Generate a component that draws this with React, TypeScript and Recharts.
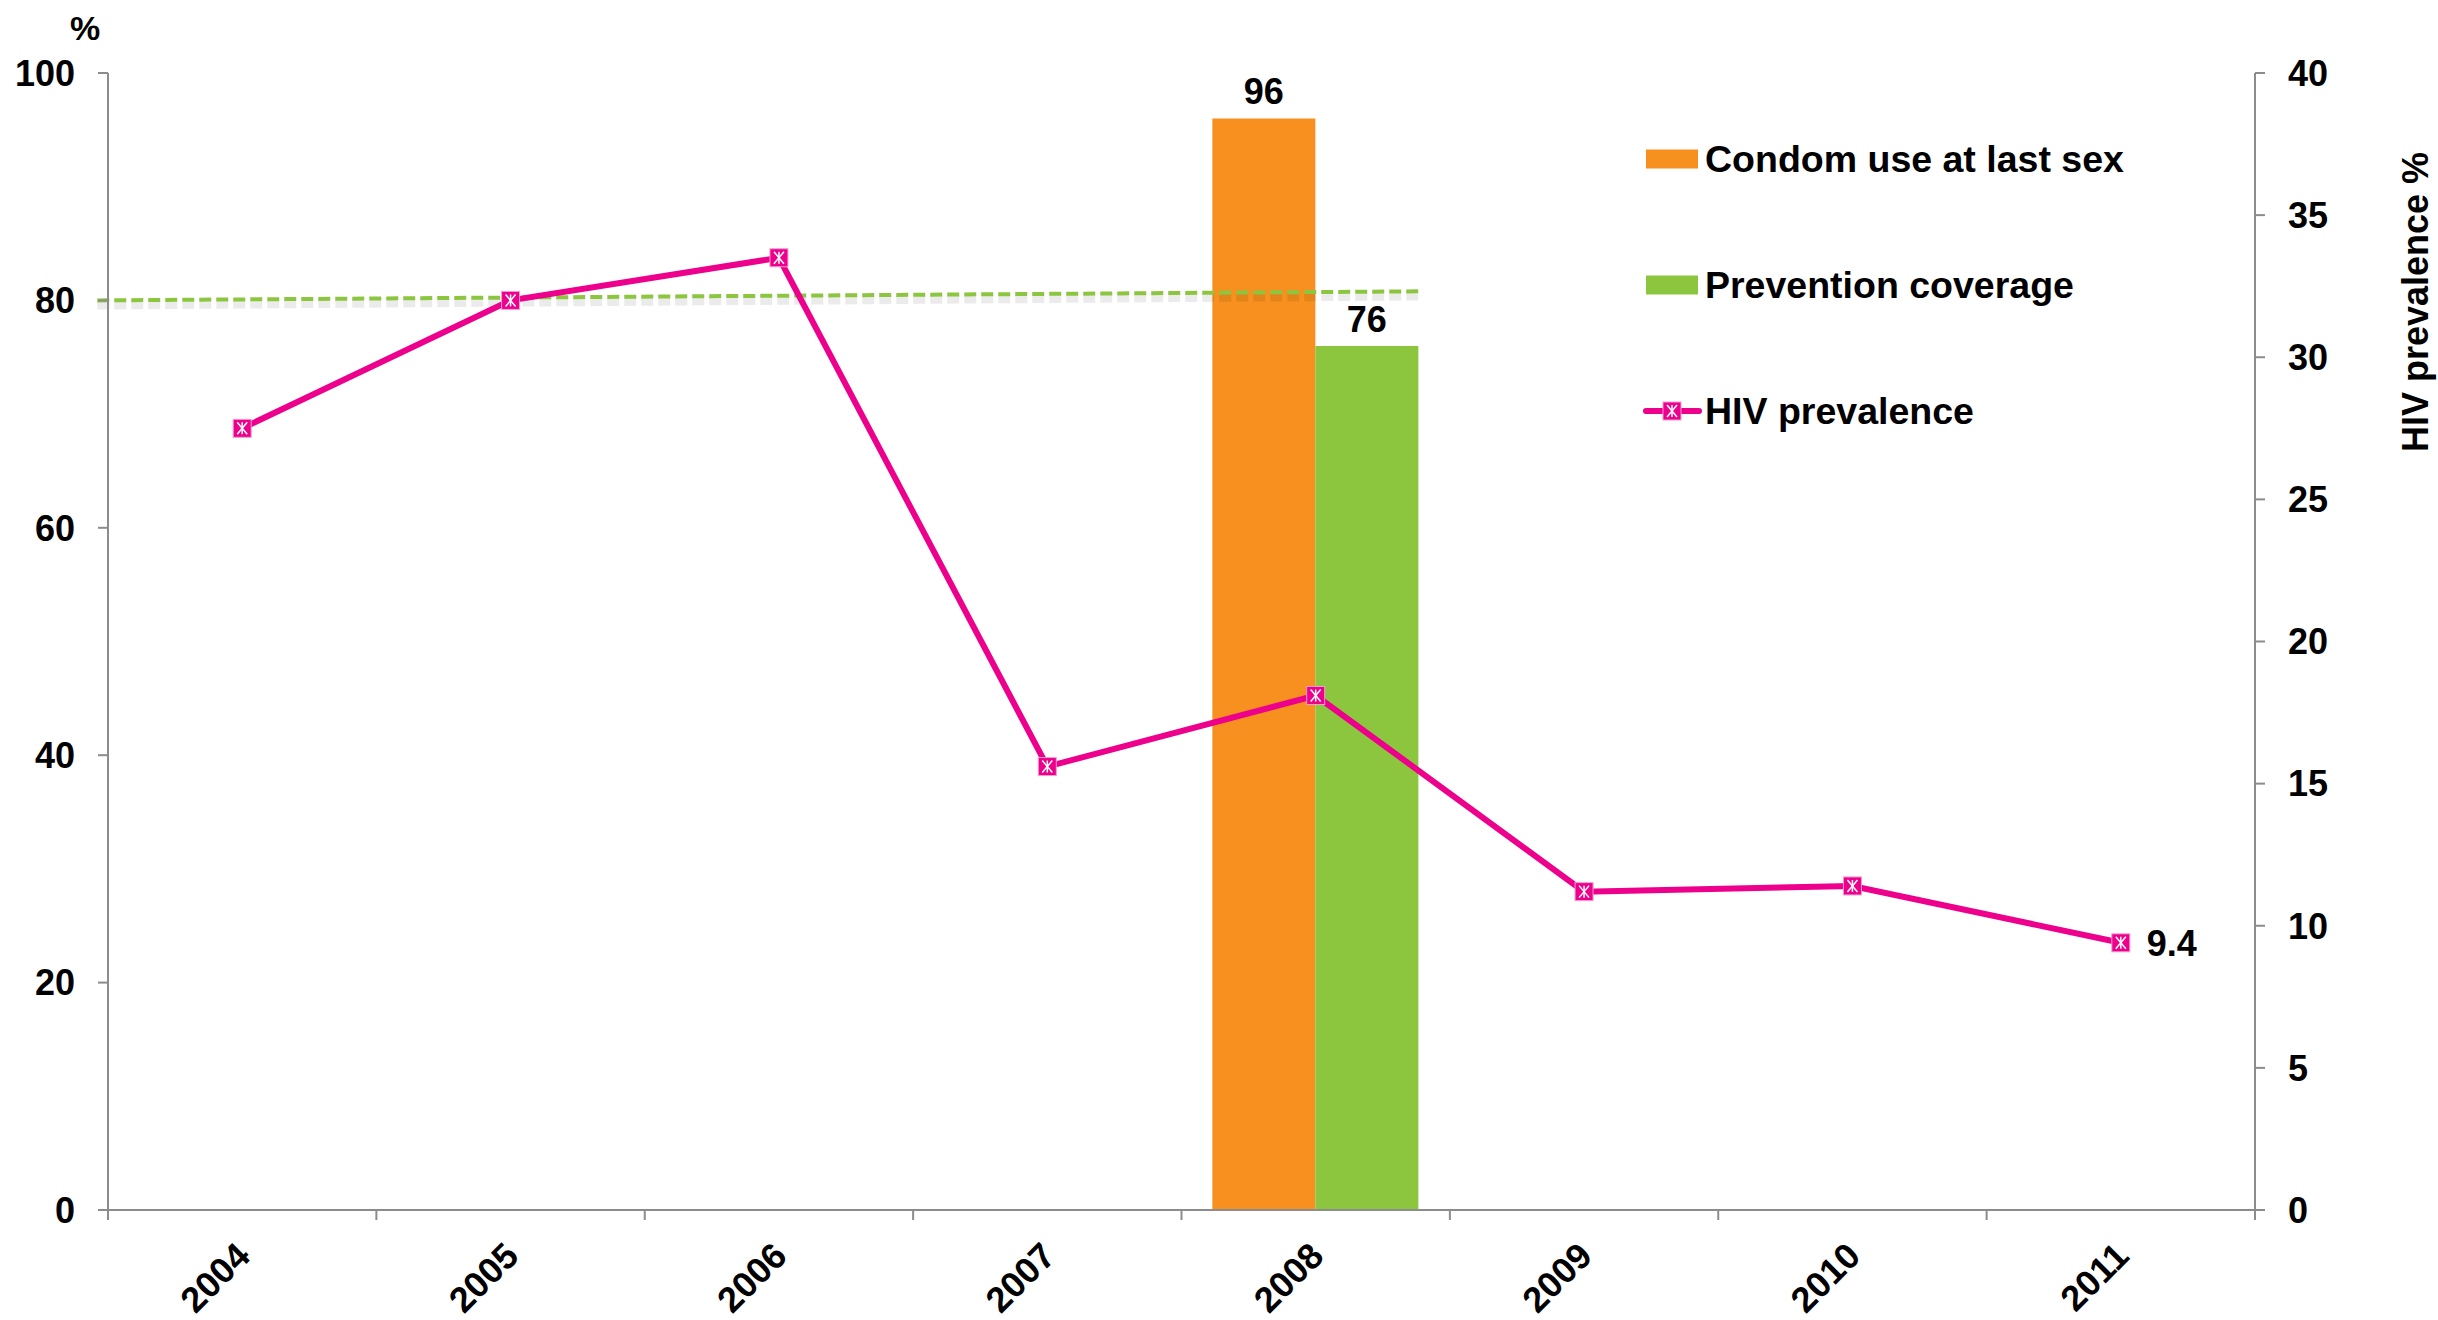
import {
  ComposedChart,
  Bar,
  Line,
  XAxis,
  YAxis,
  Legend,
  LabelList,
  ReferenceLine,
} from "recharts";

const years = ["2004", "2005", "2006", "2007", "2008", "2009", "2010", "2011"];
const condomUse = [null, null, null, null, 96, null, null, null];
const preventionCoverage = [null, null, null, null, 76, null, null, null];
const hivPrevalence = [27.5, 32.0, 33.5, 15.6, 18.1, 11.2, 11.4, 9.4];
const hivLabels = [null, null, null, null, null, null, null, 9.4];
const leftTicks = [0, 20, 40, 60, 80, 100];
const rightTicks = [0, 5, 10, 15, 20, 25, 30, 35, 40];
// dashed coverage trend line, in (category position, %) units
const coverageTrend = [
  { x: -0.04, y: 80 },
  { x: 4.9, y: 80.8 },
];

const ORANGE = "#F7901E";
const GREEN = "#8CC63F";
const PINK = "#EC008C";
const AXIS = "#8c8c8c";
const FONT = "'Liberation Sans', Arial, sans-serif";

const data = years.map((y, i) => ({
  year: y,
  pos: i,
  condom: condomUse[i],
  coverage: preventionCoverage[i],
  hiv: hivPrevalence[i],
  hivLabel: hivLabels[i],
}));

const Marker = ({ cx, cy, size = 18 }: any) => {
  if (cx == null || cy == null) return null;
  const h = size / 2;
  const a = h - 3;
  return (
    <g>
      <rect x={cx - h} y={cy - h} width={size} height={size} fill={PINK} stroke="#f59ccf" strokeWidth={1} />
      <line x1={cx} y1={cy - a} x2={cx} y2={cy + a} stroke="#fff" strokeWidth={1.5} />
      <line x1={cx - a + 1} y1={cy - a} x2={cx + a - 1} y2={cy + a} stroke="#fff" strokeWidth={1.5} />
      <line x1={cx + a - 1} y1={cy - a} x2={cx - a + 1} y2={cy + a} stroke="#fff" strokeWidth={1.5} />
    </g>
  );
};

const YearTick = (props: any) => {
  const { x, y, payload, index, width } = props;
  const half = payload.offset ?? width / years.length / 2;
  const ax = x + 10;
  const ay = y + 36;
  return (
    <g>
      <line x1={x - half} y1={y - 12} x2={x - half} y2={y - 2} stroke={AXIS} strokeWidth={2} />
      {index === years.length - 1 && (
        <line x1={x + half} y1={y - 12} x2={x + half} y2={y - 2} stroke={AXIS} strokeWidth={2} />
      )}
      <text
        x={ax}
        y={ay}
        transform={`rotate(-45, ${ax}, ${ay})`}
        textAnchor="end"
        fontFamily={FONT}
        fontWeight="bold"
        fontSize={36}
        fill="#000"
      >
        {payload.value}
      </text>
    </g>
  );
};

const legendRows = [
  { label: "Condom use at last sex", color: ORANGE, kind: "bar" },
  { label: "Prevention coverage", color: GREEN, kind: "bar" },
  { label: "HIV prevalence", color: PINK, kind: "line" },
];

const LegendBox = () => (
  <div style={{ fontFamily: FONT, fontWeight: "bold", fontSize: 37.5, color: "#000" }}>
    {legendRows.map((r) => (
      <div key={r.label} style={{ display: "flex", alignItems: "center", height: 126 }}>
        <svg width={60} height={24} style={{ marginRight: 2 }}>
          {r.kind === "bar" ? (
            <rect x={3} y={2.5} width={52} height={19} fill={r.color} />
          ) : (
            <g>
              <line x1={3} y1={12} x2={56} y2={12} stroke={r.color} strokeWidth={6} strokeLinecap="round" />
              <Marker cx={29} cy={12} size={18} />
            </g>
          )}
        </svg>
        <span style={{ whiteSpace: "nowrap" }}>{r.label}</span>
      </div>
    ))}
  </div>
);

const tickStyle = { fontFamily: FONT, fontWeight: "bold", fontSize: 36, fill: "#000" };

export default function App() {
  return (
    <div style={{ position: "absolute", left: 0, top: 0, width: 2438, height: 1320, background: "#fff" }}>
      <ComposedChart
        width={2438}
        height={1320}
        data={data}
        margin={{ top: 73, right: 8, bottom: 10, left: 8 }}
        barGap={0}
        barCategoryGap="11.5%"
      >
        <XAxis
          dataKey="year"
          height={100}
          axisLine={{ stroke: AXIS, strokeWidth: 2 }}
          tickLine={false}
          tickSize={10}
          tickMargin={2}
          interval={0}
          tick={<YearTick />}
        />
        <XAxis
          xAxisId="num"
          dataKey="pos"
          type="number"
          domain={[0, years.length]}
          allowDataOverflow
          hide
        />
        <YAxis
          yAxisId="left"
          domain={[0, 100]}
          ticks={leftTicks}
          width={100}
          axisLine={{ stroke: AXIS, strokeWidth: 2 }}
          tickLine={{ stroke: AXIS, strokeWidth: 2 }}
          tickSize={10}
          tickMargin={23}
          tick={tickStyle}
          label={{
            content: (p: any) => {
              const vb = p.viewBox || {};
              return (
                <text
                  x={vb.x + vb.width - 23}
                  y={vb.y - 33}
                  textAnchor="middle"
                  fontFamily={FONT}
                  fontWeight="bold"
                  fontSize={34}
                  fill="#000"
                >
                  %
                </text>
              );
            },
          }}
        />
        <YAxis
          yAxisId="right"
          orientation="right"
          domain={[0, 40]}
          ticks={rightTicks}
          width={175}
          axisLine={{ stroke: AXIS, strokeWidth: 2 }}
          tickLine={{ stroke: AXIS, strokeWidth: 2 }}
          tickSize={10}
          tickMargin={23}
          tick={tickStyle}
          label={{
            content: (p: any) => {
              const vb = p.viewBox || {};
              const lx = vb.x + 173;
              const ly = vb.y + 229;
              return (
                <text
                  x={lx}
                  y={ly}
                  transform={`rotate(-90, ${lx}, ${ly})`}
                  textAnchor="middle"
                  fontFamily={FONT}
                  fontWeight="bold"
                  fontSize={36}
                  fill="#000"
                >
                  HIV prevalence %
                </text>
              );
            },
          }}
        />
        <Bar yAxisId="left" dataKey="condom" name="Condom use at last sex" fill={ORANGE} isAnimationActive={false}>
          <LabelList dataKey="condom" position="top" offset={14} style={tickStyle} />
        </Bar>
        <Bar yAxisId="left" dataKey="coverage" name="Prevention coverage" fill={GREEN} isAnimationActive={false}>
          <LabelList dataKey="coverage" position="top" offset={14} style={tickStyle} />
        </Bar>
        <ReferenceLine
          xAxisId="num"
          yAxisId="left"
          segment={coverageTrend.map((p) => ({ x: p.x, y: p.y - 0.45 }))}
          stroke="#000"
          strokeOpacity={0.08}
          strokeWidth={8}
          strokeDasharray="12 5"
          ifOverflow="visible"
        />
        <ReferenceLine
          xAxisId="num"
          yAxisId="left"
          segment={coverageTrend}
          stroke={GREEN}
          strokeWidth={4}
          strokeDasharray="12 5"
          ifOverflow="visible"
        />
        <Line
          yAxisId="right"
          dataKey="hiv"
          name="HIV prevalence"
          stroke={PINK}
          strokeWidth={6}
          dot={(p: any) => <Marker key={p.index} cx={p.cx} cy={p.cy} />}
          activeDot={false}
          isAnimationActive={false}
        >
          <LabelList dataKey="hivLabel" position="right" offset={26} style={tickStyle} />
        </Line>
        <Legend
          layout="vertical"
          align="center"
          verticalAlign="middle"
          wrapperStyle={{ left: 1643, top: 96, width: 700, height: 380 }}
          content={() => <LegendBox />}
        />
      </ComposedChart>
    </div>
  );
}
